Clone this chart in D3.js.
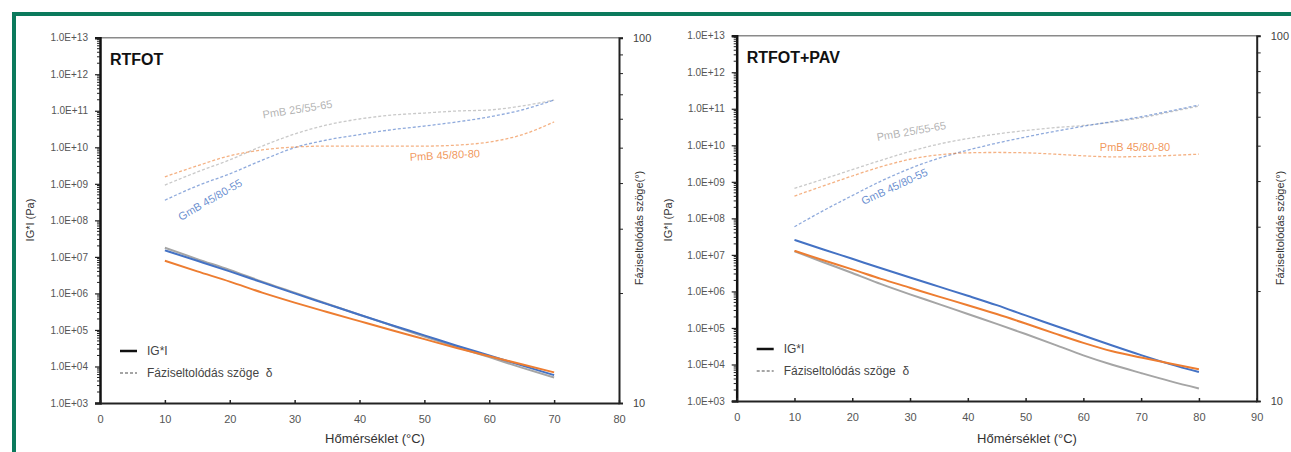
<!DOCTYPE html>
<html>
<head>
<meta charset="utf-8">
<script src="https://cdn.jsdelivr.net/npm/d3@7"></script>
<style>
  html, body { margin: 0; padding: 0; background: #fff; }
  svg { display: block; font-family: "Liberation Sans", Arial, sans-serif; }
</style>
</head>
<body>
<svg id="chart" width="1291" height="452"></svg>
<script>
// Temperatures (°C)
const tempsRtfot = [10, 15, 20, 25, 30, 35, 40, 45, 50, 55, 60, 65, 70];
const tempsPav   = [10, 15, 20, 25, 30, 35, 40, 45, 50, 55, 60, 65, 70, 75, 80];

const binderNames = ["PmB 25/55-65", "GmB 45/80-55", "PmB 45/80-80"];
const binderColors = ["#a5a5a5", "#4472c4", "#ed7d31"];

// RTFOT: complex modulus |G*| (Pa)
const rtfotModGrey   = [1.78e7, 8.7e6, 4.4e6, 2.1e6, 1.05e6, 5.2e5, 2.6e5, 1.32e5, 6.6e4, 3.4e4, 1.8e4, 9.3e3, 5.0e3];
const rtfotModBlue   = [1.51e7, 7.8e6, 4.0e6, 2.0e6, 1.0e6, 5.1e5, 2.6e5, 1.35e5, 7.1e4, 3.7e4, 2.0e4, 1.07e4, 5.8e3];
const rtfotModOrange = [7.8e6, 4.0e6, 2.1e6, 1.05e6, 5.6e5, 3.1e5, 1.74e5, 9.8e4, 5.6e4, 3.2e4, 1.9e4, 1.15e4, 6.9e3];

// RTFOT: phase angle δ (°)
const rtfotPhaseGrey   = [39.5, 42.9, 46.3, 50.5, 54.5, 57.7, 59.9, 61.4, 62.2, 63.0, 63.4, 65.0, 67.5];
const rtfotPhaseBlue   = [35.9, 39.3, 42.4, 46.2, 50.0, 52.5, 54.3, 56.0, 57.3, 58.8, 60.7, 63.4, 67.5];
const rtfotPhaseOrange = [41.6, 44.6, 47.5, 49.3, 50.2, 50.5, 50.5, 50.5, 50.5, 50.8, 51.8, 54.2, 58.8];

// RTFOT+PAV: complex modulus |G*| (Pa)
const pavModGrey   = [1.26e7, 6.3e6, 3.2e6, 1.58e6, 8.3e5, 4.5e5, 2.4e5, 1.29e5, 6.8e4, 3.5e4, 1.78e4, 9.8e3, 5.8e3, 3.5e3, 2.2e3];
const pavModBlue   = [2.57e7, 1.41e7, 7.8e6, 4.3e6, 2.4e6, 1.35e6, 7.6e5, 4.2e5, 2.2e5, 1.17e5, 6.2e4, 3.3e4, 1.8e4, 1.02e4, 6.2e3];
const pavModOrange = [1.29e7, 7.1e6, 4.0e6, 2.2e6, 1.26e6, 7.2e5, 4.2e5, 2.4e5, 1.32e5, 7.1e4, 3.9e4, 2.3e4, 1.55e4, 1.07e4, 7.4e3];

// RTFOT+PAV: phase angle δ (°)
const pavPhaseGrey   = [38.2, 40.5, 43.0, 45.6, 48.2, 50.5, 52.3, 53.8, 55.0, 56.0, 56.8, 58.0, 59.6, 61.8, 64.2];
const pavPhaseBlue   = [30.0, 33.2, 36.5, 40.0, 43.3, 46.2, 48.6, 50.8, 52.8, 54.7, 56.5, 58.2, 60.0, 62.2, 64.6];
const pavPhaseOrange = [36.4, 38.8, 41.3, 43.8, 45.9, 47.2, 47.8, 47.9, 47.8, 47.4, 46.9, 46.6, 46.7, 47.0, 47.4];

// Axis ranges and tick labels
const modDomain = [1e3, 1e13];
const phaseDomain = [10, 100];
const phaseTickLabels = [10, 100];
const xTitle = "Hőmérséklet (°C)";
const yTitleLeft = "IG*I (Pa)";
const yTitleRight = "Fáziseltolódás szöge(°)";
const legendLabels = ["IG*I", "Fáziseltolódás szöge  δ"];

const FONT = "Liberation Sans, Arial, sans-serif";
const svg = d3.select("#chart");

// Green frame around the figure
svg.append("line").attr("x1", 12).attr("x2", 1291).attr("y1", 14).attr("y2", 14)
  .attr("stroke", "#0b7a5c").attr("stroke-width", 4);
svg.append("line").attr("x1", 14).attr("x2", 14).attr("y1", 12).attr("y2", 452)
  .attr("stroke", "#0b7a5c").attr("stroke-width", 4);

const panels = [
  {
    title: "RTFOT", temps: tempsRtfot, xMax: 80,
    left: 100, right: 619, top: 37.7, bottom: 403,
    mod: [rtfotModGrey, rtfotModBlue, rtfotModOrange],
    phase: [rtfotPhaseGrey, rtfotPhaseBlue, rtfotPhaseOrange],
    labels: [
      { x: 298, y: 113, rot: -9 },
      { x: 212, y: 203, rot: -30 },
      { x: 445, y: 159, rot: -3 }
    ],
    yTitleX: 34, rTitleX: 643, xTitleX: 375
  },
  {
    title: "RTFOT+PAV", temps: tempsPav, xMax: 90,
    left: 736.7, right: 1256.7, top: 35.7, bottom: 401,
    mod: [pavModGrey, pavModBlue, pavModOrange],
    phase: [pavPhaseGrey, pavPhaseBlue, pavPhaseOrange],
    labels: [
      { x: 912, y: 135, rot: -10 },
      { x: 896, y: 190, rot: -25 },
      { x: 1135, y: 151, rot: 0 }
    ],
    yTitleX: 672, rTitleX: 1284, xTitleX: 1027
  }
];

const fmtMod = d => "1.0E+" + String(Math.round(Math.log10(d))).padStart(2, "0");

panels.forEach(p => {
  const g = svg.append("g");
  const x = d3.scaleLinear().domain([0, p.xMax]).range([p.left, p.right]);
  const yMod = d3.scaleLog().domain(modDomain).range([p.bottom, p.top]);
  const yPh = d3.scaleLog().domain(phaseDomain).range([p.bottom, p.top]);

  // top border of plot area
  g.append("line").attr("x1", p.left).attr("x2", p.right)
    .attr("y1", p.top).attr("y2", p.top)
    .attr("stroke", "#8a8a8a").attr("stroke-width", 1.5);

  // left |G*| axis: decades labelled, minor ticks between
  const majors = d3.range(3, 14).map(e => Math.pow(10, e));
  const minors = [];
  for (let e = 3; e < 13; e++) for (let m = 2; m <= 9; m++) minors.push(m * Math.pow(10, e));
  const leftAxis = g.append("g").attr("transform", `translate(${p.left},0)`)
    .attr("color", "#222").attr("font-family", FONT)
    .call(d3.axisLeft(yMod).tickValues(majors).tickFormat(fmtMod).tickSize(5).tickPadding(7));
  leftAxis.selectAll(".tick line").attr("stroke-width", 1.2);
  leftAxis.append("g").selectAll("line").data(minors).join("line")
    .attr("x1", -3).attr("x2", 0).attr("y1", d => yMod(d)).attr("y2", d => yMod(d))
    .attr("stroke", "#222").attr("stroke-width", 1);
  leftAxis.select(".domain").attr("stroke", "#111").attr("stroke-width", 2.5);
  leftAxis.selectAll("text").attr("fill", "#555").attr("font-size", 10);

  // right phase-angle axis
  const phTicks = d3.range(10, 101, 10);
  const rightAxis = g.append("g").attr("transform", `translate(${p.right},0)`)
    .attr("color", "#222").attr("font-family", FONT)
    .call(d3.axisRight(yPh).tickValues(phTicks)
      .tickFormat(d => phaseTickLabels.includes(d) ? String(d) : "")
      .tickSize(4).tickPadding(10));
  rightAxis.select(".domain").attr("stroke-width", 2);
  rightAxis.selectAll(".tick line").attr("stroke-width", 1);
  rightAxis.selectAll("text").attr("fill", "#444").attr("font-size", 11);

  // bottom temperature axis
  const bottomAxis = g.append("g").attr("transform", `translate(0,${p.bottom})`)
    .attr("color", "#222").attr("font-family", FONT)
    .call(d3.axisBottom(x).tickValues(d3.range(0, p.xMax + 1, 10)).tickSizeInner(-3).tickSizeOuter(0).tickPadding(12));
  bottomAxis.select(".domain").attr("stroke-width", 2);
  bottomAxis.selectAll(".tick line").attr("stroke-width", 1.5);
  bottomAxis.selectAll("text").attr("fill", "#555").attr("font-size", 11);

  // axis titles
  g.append("text").attr("x", p.xTitleX).attr("y", 443).attr("text-anchor", "middle")
    .attr("fill", "#333").attr("font-size", 13).text(xTitle);
  g.append("text").attr("transform", `translate(${p.yTitleX},220) rotate(-90)`)
    .attr("text-anchor", "middle").attr("fill", "#333").attr("font-size", 11).text(yTitleLeft);
  g.append("text").attr("transform", `translate(${p.rTitleX},228) rotate(-90)`)
    .attr("text-anchor", "middle").attr("fill", "#333").attr("font-size", 11).text(yTitleRight);

  // panel title
  g.append("text").attr("x", p.left + 10).attr("y", p.top + 27)
    .attr("fill", "#111").attr("font-size", 16).attr("font-weight", "bold").text(p.title);

  // phase angle curves (dashed)
  const linePh = d3.line().x((d, i) => x(p.temps[i])).y(d => yPh(d)).curve(d3.curveMonotoneX);
  p.phase.forEach((s, k) => {
    g.append("path").datum(s).attr("d", linePh).attr("fill", "none")
      .attr("stroke", binderColors[k]).attr("stroke-width", 1.3)
      .attr("stroke-opacity", 0.6).attr("stroke-dasharray", "3,2");
  });

  // modulus curves (solid)
  const lineMod = d3.line().x((d, i) => x(p.temps[i])).y(d => yMod(d)).curve(d3.curveMonotoneX);
  p.mod.forEach((s, k) => {
    g.append("path").datum(s).attr("d", lineMod).attr("fill", "none")
      .attr("stroke", binderColors[k]).attr("stroke-width", 2);
  });

  // binder labels next to the phase curves
  p.labels.forEach((l, k) => {
    g.append("text").attr("transform", `translate(${l.x},${l.y}) rotate(${l.rot})`)
      .attr("text-anchor", "middle")
      .attr("fill", binderColors[k]).attr("fill-opacity", k === 0 ? 0.85 : 0.8)
      .attr("font-size", 11).text(binderNames[k]);
  });

  // legend
  const lx = p.left + 20, ly = p.bottom - 52;
  g.append("line").attr("x1", lx).attr("x2", lx + 17).attr("y1", ly).attr("y2", ly)
    .attr("stroke", "#111").attr("stroke-width", 2.5);
  g.append("line").attr("x1", lx).attr("x2", lx + 17).attr("y1", ly + 22).attr("y2", ly + 22)
    .attr("stroke", "#888").attr("stroke-width", 1.3).attr("stroke-dasharray", "3,2");
  g.append("text").attr("x", lx + 27).attr("y", ly + 4).attr("fill", "#444")
    .attr("font-size", 12).text(legendLabels[0]);
  g.append("text").attr("x", lx + 27).attr("y", ly + 26).attr("fill", "#444")
    .attr("font-size", 12).attr("xml:space", "preserve").style("white-space", "pre").text(legendLabels[1]);
});
</script>
</body>
</html>
